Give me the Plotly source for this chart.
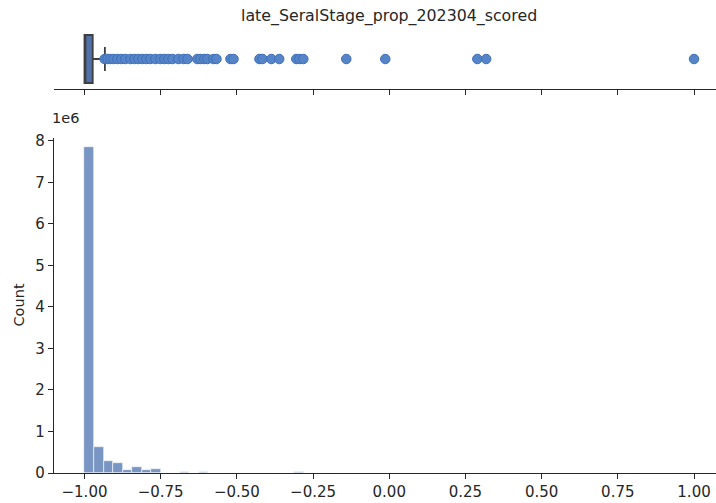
import plotly.graph_objects as go

# ---------------- data ----------------
title_text = "late_SeralStage_prop_202304_scored"
y_label = "Count"

# histogram: 64 bins of width 1/32 from -1 to 1 (counts)
bin_start = -1.0
bin_width = 1.0 / 32
counts = [
    7850000, 630000, 300000, 230000, 70000, 140000, 70000, 100000,
    10000, 5000, 30000, 5000, 30000, 3000, 3000, 2000,
    2000, 2000, 1500, 1000, 1000, 1000, 20000, 1000,
    500, 0, 0, 300, 0, 0, 0, 200,
    0, 0, 0, 0, 0, 0, 0, 0,
    0, 200, 200, 0, 0, 0, 0, 0,
    0, 0, 0, 0, 0, 0, 0, 0,
    0, 0, 0, 0, 0, 0, 0, 300,
]

# box-plot summary
box_q1 = -1.0
box_median = -1.0
box_q3 = -0.973
box_lower = -1.0
box_upper = -0.933

# outliers
outliers = [
    -0.934, -0.925, -0.915, -0.905, -0.892, -0.879, -0.866, -0.849, -0.836,
    -0.823, -0.810, -0.797, -0.784, -0.767, -0.751, -0.738, -0.725, -0.711,
    -0.692, -0.675, -0.662, -0.630, -0.620, -0.607, -0.597, -0.577, -0.567,
    -0.521, -0.511, -0.426, -0.416, -0.387, -0.361, -0.305, -0.295, -0.282,
    -0.141, -0.013, 0.289, 0.318, 1.0,
]

x_tick_vals = [-1.0, -0.75, -0.5, -0.25, 0.0, 0.25, 0.5, 0.75, 1.0]
x_tick_text = ["\u22121.00", "\u22120.75", "\u22120.50", "\u22120.25", "0.00",
               "0.25", "0.50", "0.75", "1.00"]
y_tick_vals = [0, 1e6, 2e6, 3e6, 4e6, 5e6, 6e6, 7e6, 8e6]
y_tick_text = ["0", "1", "2", "3", "4", "5", "6", "7", "8"]

# ---------------- figure ----------------
FONT = "DejaVu Sans"
INK = "#262626"
W, H = 716, 503
ML, MR, MT, MB = 54, 0, 29, 503 - 473
PW, PH = W - ML - MR, H - MT - MB


def py(page_y):
    """page pixel y -> paper fraction"""
    return (H - MB - page_y) / PH


def px(page_x):
    return (page_x - ML) / PW


x_range = [-1.1, -1.0 + (716 - 84) / 305.0]

bin_centers = [bin_start + (i + 0.5) * bin_width for i in range(len(counts))]

fig = go.Figure()

fig.add_trace(go.Bar(
    x=bin_centers, y=counts, width=bin_width,
    marker=dict(color="rgba(76,114,176,0.75)",
                line=dict(color="white", width=0.6)),
    xaxis="x", yaxis="y", showlegend=False, hoverinfo="x+y",
))

fig.add_trace(go.Box(
    q1=[box_q1], median=[box_median], q3=[box_q3],
    lowerfence=[box_lower], upperfence=[box_upper],
    y=[0], orientation="h", width=0.8, whiskerwidth=0.5,
    fillcolor="#5071aa", line=dict(color="#3f3f3f", width=1.8),
    boxpoints=False, xaxis="x2", yaxis="y2", showlegend=False,
))

fig.add_trace(go.Scatter(
    x=outliers, y=[0] * len(outliers), mode="markers",
    marker=dict(symbol="circle", size=9.5, color="#5585c8",
                line=dict(color="#3e6fb8", width=1)),
    xaxis="x2", yaxis="y2", showlegend=False,
))

axis_common = dict(
    showgrid=False, zeroline=False, showline=True, linecolor=INK, linewidth=1.2,
    ticks="outside", ticklen=5, tickwidth=1.2, tickcolor=INK,
    tickfont=dict(family=FONT, size=15, color=INK),
)

main_top = py(138)
box_bottom = py(89)

fig.update_layout(
    width=W, height=H,
    margin=dict(l=ML, r=MR, t=MT, b=MB, autoexpand=False),
    paper_bgcolor="white", plot_bgcolor="white",
    font=dict(family=FONT, color=INK),
    bargap=0,
    xaxis=dict(domain=[0, 1], range=x_range, anchor="y",
               tickvals=x_tick_vals, ticktext=x_tick_text, **axis_common),
    yaxis=dict(domain=[0, main_top], range=[0, 8.07e6], anchor="x",
               tickvals=y_tick_vals, ticktext=y_tick_text, **axis_common),
    xaxis2=dict(domain=[0, 1], range=x_range, anchor="y2",
                tickvals=x_tick_vals, showticklabels=False, **axis_common),
    yaxis2=dict(domain=[box_bottom, 1], range=[-0.5, 0.5], anchor="x2",
                visible=False),
    annotations=[
        dict(text=title_text, xref="paper", yref="paper",
             x=px(389), y=py(16),
             xanchor="center", yanchor="middle", showarrow=False,
             font=dict(family=FONT, size=15.8, color=INK)),
        dict(text=y_label, xref="paper", yref="paper",
             x=px(18), y=main_top / 2, textangle=-90,
             xanchor="center", yanchor="middle", showarrow=False,
             font=dict(family=FONT, size=14.5, color=INK)),
        dict(text="1e6", xref="paper", yref="paper",
             x=0, y=py(128), xanchor="left", yanchor="bottom",
             showarrow=False, xshift=-4,
             font=dict(family=FONT, size=14.5, color=INK)),
    ],
)

fig.write_html(
    "out.html",
    config={"displayModeBar": False},
    post_script="document.body.style.margin='0px';"
                "document.body.style.overflow='hidden';",
)
